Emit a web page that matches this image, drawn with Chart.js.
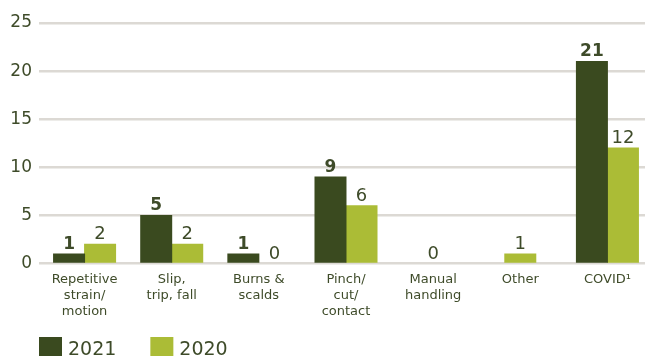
<!DOCTYPE html>
<html>
<head>
<meta charset="utf-8">
<script src="https://cdn.jsdelivr.net/npm/chart.js@4/dist/chart.umd.min.js"></script>
<style>
  html, body { margin: 0; padding: 0; background: #ffffff; overflow: hidden; }
  #wrap { position: relative; width: 651px; height: 356px; }
</style>
</head>
<body>
<div id="wrap"><canvas id="chart" width="651" height="356"></canvas></div>
<script>
// Injury categories (multi-line tick labels)
const categories = [
  ['Repetitive', 'strain/', 'motion'],
  ['Slip,', 'trip, fall'],
  ['Burns &', 'scalds'],
  ['Pinch/', 'cut/', 'contact'],
  ['Manual', 'handling'],
  ['Other'],
  ['COVID\u00B9']
];
// Number of incidents per year (null = no entry for that year)
const values2021 = [1, 5, 1, 9, null, null, 21];
const values2020 = [2, 2, 0, 6, 0, 1, 12];
const seriesNames = ['2021', '2020'];
const yTicks = [0, 5, 10, 15, 20, 25];

const DARK = '#3a4a1f';
const LIGHT = '#abbc36';
const TEXT = '#3e4b29';
const GRID = '#dcd9d4';
const FONT = "'DejaVu Sans', Verdana, sans-serif";

// Value labels above each bar; bold for the latest year
const valueLabels = {
  id: 'valueLabels',
  afterDatasetsDraw(chart) {
    const ctx = chart.ctx;
    ctx.save();
    ctx.fillStyle = TEXT;
    ctx.textAlign = 'center';
    ctx.textBaseline = 'alphabetic';
    chart.data.datasets.forEach((ds, di) => {
      const meta = chart.getDatasetMeta(di);
      ctx.font = di === 0 ? 'bold 17px ' + FONT : '18px ' + FONT;
      meta.data.forEach((bar, i) => {
        const v = ds.data[i];
        if (v === null || v === undefined) return;
        ctx.fillText(String(v), bar.x, bar.y - 5);
      });
    });
    ctx.restore();
  }
};

// Legend drawn below the category labels
const bottomLegend = {
  id: 'bottomLegend',
  afterDraw(chart) {
    const ctx = chart.ctx;
    const size = 23;
    const top = chart.height - 19;
    let x = chart.chartArea.left - 2;
    ctx.save();
    ctx.font = '19px ' + FONT;
    ctx.textBaseline = 'alphabetic';
    ctx.textAlign = 'left';
    chart.data.datasets.forEach((ds) => {
      ctx.fillStyle = ds.backgroundColor;
      ctx.fillRect(x, top, size, size);
      ctx.fillStyle = TEXT;
      const tx = x + size + 6;
      ctx.fillText(ds.label, tx, chart.height - 1);
      x = tx + ctx.measureText(ds.label).width + 34;
    });
    ctx.restore();
  }
};

new Chart(document.getElementById('chart'), {
  type: 'bar',
  data: {
    labels: categories,
    datasets: [
      { label: seriesNames[0], data: values2021, backgroundColor: DARK },
      { label: seriesNames[1], data: values2020, backgroundColor: LIGHT }
    ]
  },
  options: {
    responsive: false,
    animation: false,
    devicePixelRatio: 1,
    layout: { padding: { top: 23, right: 0, bottom: 0, left: 0 } },
    datasets: {
      bar: {
        categoryPercentage: 0.712,
        barPercentage: 1.0,
        maxBarThickness: 31,
        skipNull: true,
        borderWidth: 0,
        // close the seam between neighbouring bars, but keep zero bars invisible
        inflateAmount: (c) => (c.raw ? 0.5 : 0)
      }
    },
    plugins: {
      legend: { display: false },
      tooltip: { enabled: false }
    },
    scales: {
      x: {
        grid: { display: false, drawTicks: false },
        border: { display: false },
        ticks: {
          color: TEXT,
          font: { family: FONT, size: 13, lineHeight: 1.23 },
          padding: 8,
          maxRotation: 0,
          autoSkip: false
        },
        afterFit(scale) { scale.height = 92.5; }
      },
      y: {
        min: 0,
        max: 25,
        afterBuildTicks(scale) { scale.ticks = yTicks.map(v => ({ value: v })); },
        grid: { color: GRID, lineWidth: 2.5, drawTicks: true, tickLength: 2, tickColor: GRID },
        border: { display: false },
        ticks: {
          color: TEXT,
          font: { family: FONT, size: 17 },
          padding: 7
        },
        afterFit(scale) { scale.width = 41; }
      }
    }
  },
  plugins: [valueLabels, bottomLegend]
});
</script>
</body>
</html>
